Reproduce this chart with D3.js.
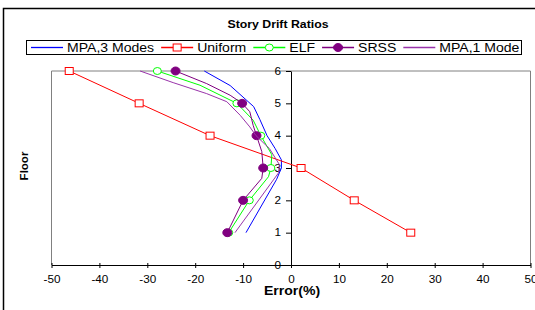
<!DOCTYPE html>
<html lang="en">
<head>
<meta charset="UTF-8" />
<title>Story Drift Ratios</title>
<script src="https://cdnjs.cloudflare.com/ajax/libs/d3/7.8.5/d3.min.js"></script>
<style>
  body { margin: 0; background: #fff; }
  text { font-family: "Liberation Sans", Arial, sans-serif; fill: #000; }
</style>
</head>
<body>
<script>
// values: [error %, floor]
var floors = [0, 1, 2, 3, 4, 5, 6];
var xTicks = [-50, -40, -30, -20, -10, 0, 10, 20, 30, 40, 50];

var mpa3 = [[-9.4,1],[-3.0,2.65],[-2.0,3.0],[-2.0,3.25],[-3.3,3.6],[-5.0,4.0],[-6.5,4.5],[-7.8,4.9],[-12.7,5.55],[-18.1,6]];
var uniform = [[25.0,1],[13.2,2],[2.1,3],[-16.9,4],[-31.7,5],[-46.3,6]];
var elf = [[-13.0,1],[-8.7,2],[-4.7,2.73],[-4.2,3],[-4.0,3.41],[-6.3,4],[-7.9,4.48],[-11.3,5],[-19.0,5.56],[-27.9,6]];
var elfMarks = [[-13.0,1],[-8.7,2],[-4.2,3],[-6.3,4],[-11.3,5],[-27.9,6]];
var srss = [[-13.3,1],[-10.0,2],[-6.1,2.68],[-5.8,3],[-6.1,3.51],[-7.2,4],[-7.9,4.32],[-8.6,4.74],[-10.2,5],[-12.7,5.25],[-17.6,5.61],[-24.1,6]];
var srssMarks = [[-13.3,1],[-10.0,2],[-5.8,3],[-7.2,4],[-10.2,5],[-24.1,6]];
var mpa1 = [[-11.7,1],[-2.6,2.85],[-2.4,3.1],[-4.5,3.6],[-7.3,4.0],[-8.6,4.27],[-10.6,4.63],[-13.4,5.05],[-17.6,5.3],[-24.6,5.64],[-31.5,6]];

var seriesNames = ["MPA,3 Modes", "Uniform", "ELF", "SRSS", "MPA,1 Mode"];
var seriesColors = ["#0000ff", "#ff0000", "#00ff00", "#800080", "#9933aa"];
var seriesMarks = ["none", "square", "circle", "dot", "none"];

var width = 535, height = 310;
var stretch = 1.17;

var svg = d3.select("body").append("svg")
  .attr("width", width)
  .attr("height", height);

// the picture's text is a bit wider than plain Arial, so stretch it
function widen(sel) {
  sel.each(function() {
    var w = this.getComputedTextLength();
    d3.select(this).attr("textLength", w * stretch).attr("lengthAdjust", "spacingAndGlyphs");
  });
  return sel;
}

// outer chart border
svg.append("rect")
  .attr("x", 3.5).attr("y", 8.5)
  .attr("width", 600).attr("height", 400)
  .attr("fill", "none").attr("stroke", "#000").attr("stroke-width", 1.5);

var xScale = d3.scaleLinear().domain([-50, 50]).range([51.5, 530.5]);
var yScale = d3.scaleLinear().domain([0, 6]).range([265, 71]);

// plot area frame (left, top, right)
svg.append("path")
  .attr("d", "M" + xScale(-50) + "," + yScale(0) + "V" + yScale(6) + "H" + xScale(50) + "V" + yScale(0))
  .attr("fill", "none").attr("stroke", "#808080").attr("stroke-width", 1);

// title
widen(svg.append("text")
  .attr("x", 278).attr("y", 28)
  .attr("text-anchor", "middle")
  .attr("font-size", "10.5px").attr("font-weight", "bold")
  .text("Story Drift Ratios"));

// x axis
var xAxis = svg.append("g")
  .attr("transform", "translate(0," + yScale(0) + ")")
  .call(d3.axisBottom(xScale).tickValues(xTicks).tickFormat(function(d) { return String(d); })
    .tickSizeInner(3).tickSizeOuter(0).tickPadding(8));
xAxis.select(".domain").attr("stroke", "#000");
xAxis.selectAll(".tick line").attr("y1", -2).attr("y2", 3);
xAxis.selectAll(".tick text").attr("font-size", "10px").attr("font-family", null).attr("fill", "#000");
widen(xAxis.selectAll(".tick text"));

// y axis at x = 0
var yAxis = svg.append("g")
  .attr("transform", "translate(" + xScale(0) + ",0)")
  .call(d3.axisLeft(yScale).tickValues(floors).tickFormat(function(d) { return String(d); })
    .tickSizeInner(5).tickSizeOuter(0).tickPadding(5));
yAxis.select(".domain").attr("stroke", "#000");
yAxis.selectAll(".tick text").attr("font-size", "10px").attr("font-family", null).attr("fill", "#000");
widen(yAxis.selectAll(".tick text"));

// axis titles
widen(svg.append("text")
  .attr("x", 292).attr("y", 295)
  .attr("text-anchor", "middle")
  .attr("font-size", "12px").attr("font-weight", "bold")
  .text("Error(%)"));

svg.append("text")
  .attr("transform", "translate(28,166) rotate(-90)")
  .attr("text-anchor", "middle")
  .attr("font-size", "11.5px").attr("font-weight", "bold")
  .text("Floor");

var line = d3.line()
  .x(function(d) { return xScale(d[0]); })
  .y(function(d) { return yScale(d[1]); });

function drawMark(g, type, color, cx, cy) {
  if (type == "square") {
    g.append("rect").attr("x", cx - 4).attr("y", cy - 3.5).attr("width", 8).attr("height", 7)
      .attr("fill", "#fff").attr("stroke", color).attr("stroke-width", 1);
  } else if (type == "circle") {
    g.append("ellipse").attr("cx", cx).attr("cy", cy).attr("rx", 4).attr("ry", 3.5)
      .attr("fill", "#fff").attr("stroke", color).attr("stroke-width", 1);
  } else if (type == "dot") {
    g.append("ellipse").attr("cx", cx).attr("cy", cy).attr("rx", 4.5).attr("ry", 4)
      .attr("fill", color).attr("stroke", color).attr("stroke-width", 1);
  }
}

var lines = [mpa3, uniform, elf, srss, mpa1];
var marks = [null, uniform, elfMarks, srssMarks, null];
var plot = svg.append("g");

lines.forEach(function(data, i) {
  plot.append("path")
    .datum(data)
    .attr("d", line)
    .attr("fill", "none")
    .attr("stroke", seriesColors[i])
    .attr("stroke-width", 1);
  if (marks[i]) {
    marks[i].forEach(function(d) {
      drawMark(plot, seriesMarks[i], seriesColors[i], xScale(d[0]), yScale(d[1]));
    });
  }
});

// legend
var legend = svg.append("g");
legend.append("rect")
  .attr("x", 26.5).attr("y", 40.5).attr("width", 495).attr("height", 14)
  .attr("fill", "#fff").attr("stroke", "#000").attr("stroke-width", 1);

var lx = 31;
seriesNames.forEach(function(name, i) {
  legend.append("path")
    .attr("d", "M" + lx + ",47.5H" + (lx + 32))
    .attr("fill", "none")
    .attr("stroke", seriesColors[i]).attr("stroke-width", 1.3);
  drawMark(legend, seriesMarks[i], seriesColors[i], lx + 16, 47.5);
  var t = legend.append("text")
    .attr("x", lx + 36).attr("y", 52)
    .attr("font-size", "12px")
    .text(name);
  var w = t.node().getComputedTextLength() * stretch;
  t.attr("textLength", w).attr("lengthAdjust", "spacingAndGlyphs");
  lx = lx + 36 + w + 7;
});
</script>
</body>
</html>
